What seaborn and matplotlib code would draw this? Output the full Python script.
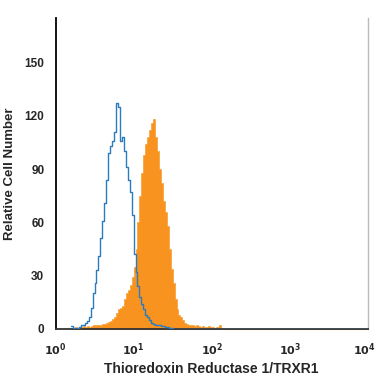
import numpy as np
import pandas as pd
import matplotlib
matplotlib.use("Agg")
import matplotlib.pyplot as plt
import matplotlib.transforms as mtransforms
import seaborn as sns

# log10 bin edges for the histogram channels (0.025 decade wide)
bin_start = 0.2
bin_width = 0.025

# isotype control (blue outline)
control_counts = [1.5, 0.5, 0, 0.5, 1, 2, 2.5, 3.5, 4.5, 7,
                  12, 20, 26, 33, 41, 51, 61, 71, 84, 99,
                  103, 106, 111, 127, 125, 106, 108, 100, 91, 84,
                  77, 64, 42, 32, 24, 18, 14, 11, 8, 6.5,
                  5, 3.5, 3, 2.5, 2, 2, 1.5, 1.5, 1, 1,
                  0.5, 0.5, 0, 0, 0, 0, 0, 0, 0, 0,
                  0, 0, 0, 0, 0, 0, 0, 0, 0, 0,
                  0, 0, 0, 0, 0, 0, 0, 0, 0, 0]

# TRXR1 stained cells (orange filled)
stained_counts = [0.5, 0.5, 1, 0.5, 1, 1, 1.5, 1, 1.5, 1,
                  1.5, 2, 2, 2, 2.5, 2, 3, 3, 3.5, 4,
                  4.5, 5.5, 7, 9, 11, 12, 13, 17, 20, 22,
                  25, 29, 35, 45, 60, 75, 88, 98, 104, 108,
                  112, 116, 118, 108, 100, 90, 82, 72, 66, 58,
                  45, 34, 26, 17, 11, 8, 7, 5, 3.5, 3,
                  2.5, 2, 2, 1.5, 2, 1.5, 1, 1.5, 1, 1,
                  1.5, 1, 1, 0.5, 1, 1, 2, 0, 0, 0]

y_ticks = [0, 30, 60, 90, 120, 150]
x_decades = [0, 1, 2, 3, 4]

n_bins = int(round((4 - bin_start) / bin_width))
edges_log = bin_start + bin_width * np.arange(n_bins + 1)
edges = [float(e) for e in 10 ** edges_log]
df = pd.DataFrame({
    "fl": 10 ** (edges_log[:-1] + bin_width / 2),
    "control": np.pad(control_counts, (0, n_bins - len(control_counts))),
    "stained": np.pad(stained_counts, (0, n_bins - len(stained_counts))),
})

sns.set_style("white")
plt.rcParams['font.family'] = ['Liberation Sans', 'DejaVu Sans']

fig = plt.figure(figsize=(3.75, 3.75), dpi=100)
ax = fig.add_axes([0.148, 0.1227, 0.833, 0.829])

sns.histplot(data=df, x="fl", weights="stained", bins=edges, element="step", fill=True,
             color="#f7931e", alpha=1.0, edgecolor="#f7931e", linewidth=0.4, ax=ax, zorder=2)
sns.histplot(data=df, x="fl", weights="control", bins=edges, element="step", fill=False,
             color="#2b7bc0", linewidth=1.0, ax=ax, zorder=3)

ax.set_xscale("log")
ax.set_xlim(1, 1e4)
ax.set_ylim(0, 175)
ax.set_yticks(y_ticks)
ax.set_yticklabels([str(v) for v in y_ticks], fontsize=8.5, fontweight="bold")
ax.set_xticks([10.0 ** d for d in x_decades])
ax.set_xticklabels([f"$\\mathbf{{10^{d}}}$" for d in x_decades], fontsize=8)
ax.xaxis.set_minor_locator(matplotlib.ticker.LogLocator(base=10, subs=np.arange(2, 10)))
ax.xaxis.set_minor_formatter(matplotlib.ticker.NullFormatter())

ax.tick_params(axis="both", which="both", direction="out", color="#999999",
               length=6, width=1, pad=2)
ax.tick_params(axis="x", which="major", length=6, pad=3)

# keep the last decade label inside the canvas
last = ax.get_xticklabels()[-1]
last.set_transform(last.get_transform() + mtransforms.ScaledTranslation(-4 / 100, 0, fig.dpi_scale_trans))

ax.spines["top"].set_visible(False)
ax.spines["right"].set_color("#bbbbbb")
ax.spines["right"].set_linewidth(1)
ax.spines["left"].set_color("black")
ax.spines["left"].set_linewidth(1.3)
ax.spines["bottom"].set_color("#333333")
ax.spines["bottom"].set_linewidth(1.3)

ax.set_xlabel("Thioredoxin Reductase 1/TRXR1", fontsize=10, fontweight="bold", labelpad=3)
ax.set_ylabel("Relative Cell Number", fontsize=9.5, fontweight="bold", labelpad=6)

fig.savefig("out.png", dpi=100)
